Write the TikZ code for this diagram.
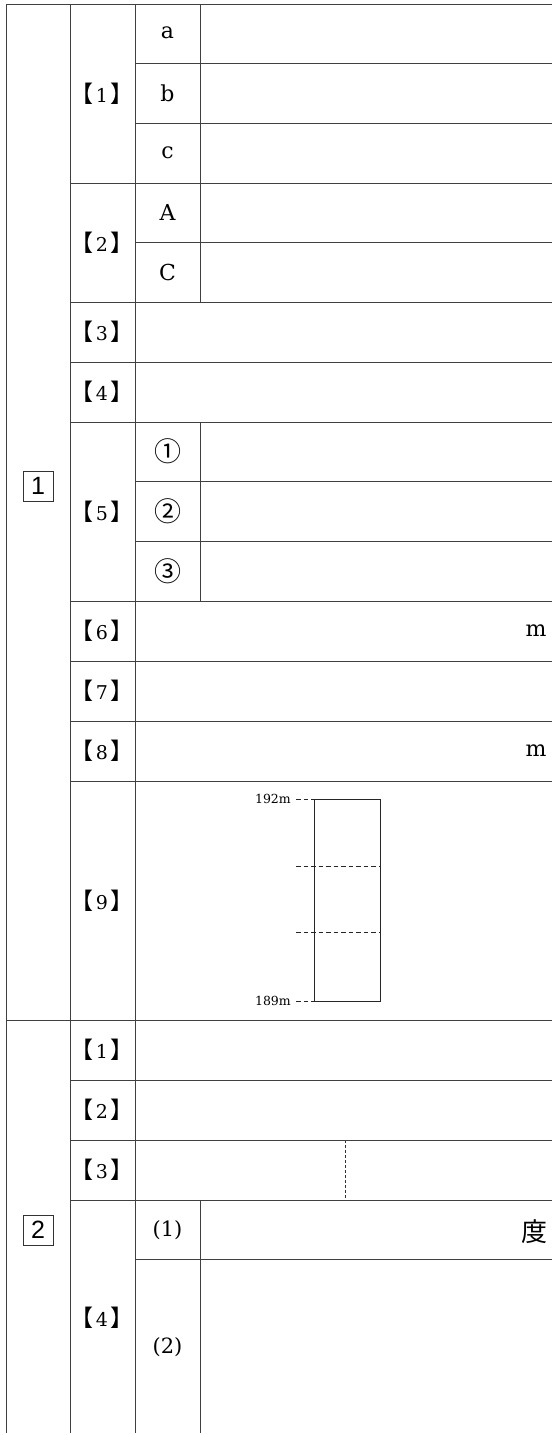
\documentclass[tikz,border=0pt]{standalone}
\usepackage{fontspec}
\setmainfont{DejaVu Serif}
\newfontfamily\cjk{Noto Sans CJK JP}
\newfontfamily\sansf{Liberation Sans}
\newcommand\kakko[1]{{\cjk\fontsize{23}{23}\selectfont 【}\hspace{2pt}#1\hspace{2pt}{\cjk\fontsize{23}{23}\selectfont 】}}
\tikzset{
  rule/.style={line width=0.9pt, draw=black!75},
  thin/.style={line width=0.7pt, draw=black!85},
  dashrule/.style={line width=0.7pt, draw=black!85, dash pattern=on 4.5pt off 3pt},
  vdash/.style={line width=0.6pt, draw=black!80, dash pattern=on 3pt off 2pt},
  lab/.style={inner sep=0pt, font=\fontsize{22}{26}\selectfont},
  qlab/.style={inner sep=0pt, font=\fontsize{19}{24}\selectfont},
  circ/.style={inner sep=0pt, font=\cjk\fontsize{27}{30}\selectfont},
  par/.style={inner sep=0pt, font=\fontsize{21}{24}\selectfont},
  small/.style={inner sep=0pt, font=\fontsize{12.5}{14}\selectfont},
  sec/.style={draw=black!80, line width=0.8pt, minimum size=30pt, inner sep=0pt, font=\sansf\fontsize{25}{25}\selectfont},
}
\begin{document}
\begin{tikzpicture}[x=1pt,y=-1pt]
\useasboundingbox (0,0) rectangle (552,1435);
% main verticals
\draw[rule] (6,4) -- (6,1433);
\draw[rule] (70,4) -- (70,1433);
\draw[rule] (135,4) -- (135,1433);
% sub-column verticals
\draw[rule] (200,4) -- (200,183);
\draw[rule] (200,183) -- (200,302);
\draw[rule] (200,422) -- (200,601);
\draw[rule] (200,1200) -- (200,1433);
\draw[vdash] (345,1140) -- (345,1200);
% horizontals
\draw[rule] (6,4) -- (552,4);
\draw[rule] (6,1020) -- (552,1020);
\foreach \y in {183,302,362,422,601,661,721,781,1080,1140,1200}
  \draw[rule] (70,\y) -- (552,\y);
\foreach \y in {63,123,242,481,541,1259}
  \draw[rule] (135,\y) -- (552,\y);
% section boxes
\node[sec] (s1) at (38,486) {1};
\node[sec] (s2) at (38,1230) {2};
% section 1 labels
\node[qlab] (q1) at (102,93.5) {\kakko{1}};
\node[qlab] (q2) at (102,242.5) {\kakko{2}};
\node[qlab] (q3) at (102,332) {\kakko{3}};
\node[qlab] (q4) at (102,392) {\kakko{4}};
\node[qlab] (q5) at (102,511.5) {\kakko{5}};
\node[qlab] (q6) at (102,631) {\kakko{6}};
\node[qlab] (q7) at (102,691) {\kakko{7}};
\node[qlab] (q8) at (102,751) {\kakko{8}};
\node[qlab] (q9) at (102,901) {\kakko{9}};
\node[lab] (la) at (167.5,33) {a};
\node[lab] (lb) at (167.5,93) {b};
\node[lab] (lc) at (167.5,153) {c};
\node[lab] (lA) at (167.5,212.5) {A};
\node[lab] (lC) at (167.5,272) {C};
\node[circ] (c1) at (167.5,451.5) {①};
\node[circ] (c2) at (167.5,511) {②};
\node[circ] (c3) at (167.5,571) {③};
\node[lab] (m6) at (536,631) {m};
\node[lab] (m8) at (536,751) {m};
% [9] diagram
\draw[thin] (314,799) rectangle (380,1001);
\node[small, anchor=east] (t192) at (291,799) {192m};
\node[small, anchor=east] (t189) at (291,1001) {189m};
\coordinate (d1a) at (296,866);
\coordinate (d1b) at (380,866);
\coordinate (d2a) at (296,932);
\coordinate (d2b) at (380,932);
\draw[dashrule] (d1a) -- (d1b);
\draw[dashrule] (d2a) -- (d2b);
\draw[dashrule] (t192.east) ++(5,0) -- (314,799);
\draw[dashrule] (t189.east) ++(5,0) -- (314,1001);
% section 2 labels
\node[qlab] (r1) at (102,1050) {\kakko{1}};
\node[qlab] (r2) at (102,1110) {\kakko{2}};
\node[qlab] (r3) at (102,1170) {\kakko{3}};
\node[qlab] (r4) at (102,1318) {\kakko{4}};
\node[par] (p1) at (167.5,1230) {(1)};
\node[par] (p2) at (167.5,1347) {(2)};
\node[inner sep=0pt, font=\cjk\fontsize{26}{28}\selectfont] (deg) at (534,1232) {度};
\end{tikzpicture}
\end{document}
